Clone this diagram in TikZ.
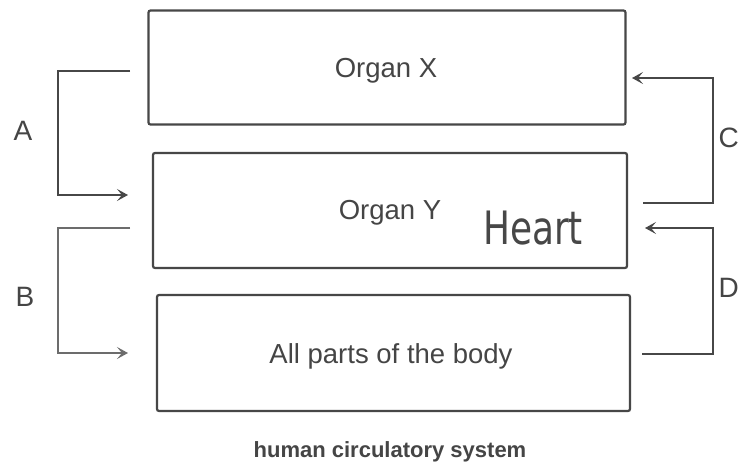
\documentclass[tikz,border=0pt]{standalone}
\usepackage{fontspec}
\setmainfont{Liberation Sans}
\newfontfamily\handfont[FakeStretch=0.78]{DejaVu Sans}
\usetikzlibrary{arrows.meta}
\definecolor{ink}{HTML}{474747}
\definecolor{txt}{HTML}{454545}
\tikzset{
  box/.style={draw=ink, line width=2.2pt, rounded corners=2pt, inner sep=0pt},
  boxtext/.style={text=txt, inner sep=0pt, font=\fontsize{27.5}{30}\selectfont},
  conn/.style={draw=ink, line width=2.4pt, -{Stealth[length=11pt,width=12pt,inset=5pt]}},
  lab/.style={text=txt, font=\fontsize{28}{30}\selectfont, inner sep=0pt},
}
\begin{document}
\begin{tikzpicture}[x=1pt,y=-1pt]
\useasboundingbox[fill=white] (0,0) rectangle (740,464);
% boxes
\node[box, minimum width=477pt, minimum height=114pt] (X) at (387,67.5) {};
\node[box, minimum width=474pt, minimum height=115pt] (Y) at (390,210.5) {};
\node[box, minimum width=473pt, minimum height=116pt] (B) at (393.5,353) {};
\node[boxtext] (Xt) at (386,71) {Organ X};
\node[boxtext] (Yt) at (390,213) {Organ Y};
\node[boxtext] (Bt) at (391,356) {All parts of the body};
% handwritten note
\node[text=ink, font=\handfont\fontsize{46}{50}\selectfont, inner sep=0pt] (heart) at (533,228) {Heart};
% caption
\node[text=txt, font=\bfseries\fontsize{22}{26}\selectfont, inner sep=0pt, anchor=base] (cap) at (390,457) {human circulatory system};
% labels
\node[lab] (la) at (23,131) {A};
\node[lab] (lb) at (25,297) {B};
\node[lab, anchor=east] (lc) at (739,138) {C};
\node[lab, anchor=east] (ld) at (739,288) {D};
% connector coordinates
\coordinate (lx) at (58,0);
\coordinate (rx) at (713,0);
\coordinate (aS) at (130,71);
\coordinate (aE) at (128,195);
\coordinate (bS) at (130,228);
\coordinate (bE) at (128,353);
\coordinate (cS) at (643,203);
\coordinate (cE) at (632,78);
\coordinate (dS) at (642,354);
\coordinate (dE) at (645,228);
% connectors
\draw[conn] (aS) -- (aS -| lx) |- (aE);
\draw[conn, draw=ink!80] (bS) -- (bS -| lx) |- (bE);
\draw[conn] (cS) -- (cS -| rx) |- (cE);
\draw[conn] (dS) -- (dS -| rx) |- (dE);
\end{tikzpicture}
\end{document}
